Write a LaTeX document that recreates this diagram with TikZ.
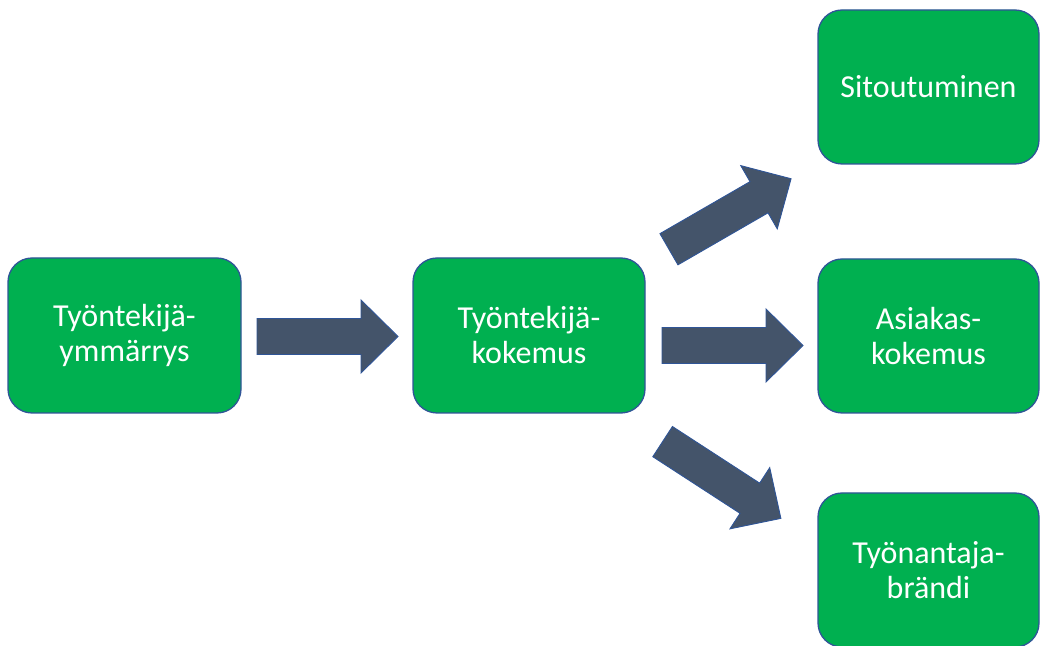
\documentclass[tikz,border=0pt]{standalone}
\usepackage{fontspec}
\setmainfont{Carlito}
\definecolor{boxgreen}{HTML}{00B050}
\definecolor{boxborder}{HTML}{2F5597}
\definecolor{arrowfill}{HTML}{44546A}
\tikzset{
  greenbox/.style={draw=boxborder, line width=1.3pt, fill=boxgreen, rounded corners=24pt,
    text=white, align=center, inner sep=0pt, outer sep=0pt,
    font=\fontsize{32}{35}\selectfont},
  blockarrow/.style={draw=boxborder, line width=0.9pt, fill=arrowfill, line join=miter}
}
\newcommand{\myblockarrow}[3]{%
  \draw[blockarrow, shift={(#1,#2)}, rotate=#3]
    (-70.5,-18) -- (33.5,-18) -- (33.5,-36.5) -- (70.5,0) -- (33.5,36.5) -- (33.5,18) -- (-70.5,18) -- cycle;}
\begin{document}
\begin{tikzpicture}[x=1pt,y=1pt]
\useasboundingbox (0,0) rectangle (1041,645);
\node[greenbox, minimum width=233pt, minimum height=155pt] (ymm) at (124.5,309.5) {Työntekijä-\\ymmärrys};
\node[greenbox, minimum width=232pt, minimum height=155pt] (kok) at (529,309.5) {Työntekijä-\\kokemus};
\node[greenbox, minimum width=221pt, minimum height=154pt] (sit) at (928.5,558) {Sitoutuminen};
\node[greenbox, minimum width=221pt, minimum height=154pt] (asi) at (928.5,309) {Asiakas-\\kokemus};
\node[greenbox, minimum width=221pt, minimum height=154pt] (bra) at (928.5,75) {Työnantaja-\\brändi};
\myblockarrow{327.5}{308.5}{0}
\myblockarrow{732.5}{299.5}{0}
\myblockarrow{730}{431}{30}
\myblockarrow{721.75}{165}{-33}
\end{tikzpicture}
\end{document}
